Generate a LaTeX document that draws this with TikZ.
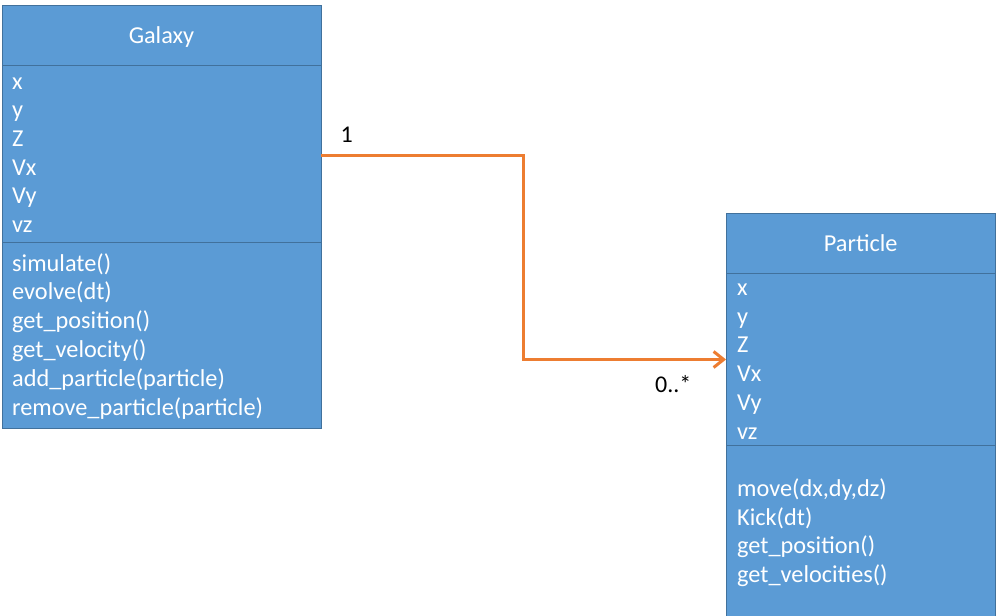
\documentclass[tikz,border=0pt]{standalone}
\usepackage{fontspec}
\setmainfont{Carlito}
\usetikzlibrary{arrows.meta}
\definecolor{boxfill}{HTML}{5B9BD5}
\definecolor{boxline}{HTML}{41719C}
\definecolor{connorange}{HTML}{ED7D31}
\tikzset{
  umlbox/.style={draw=boxline, fill=boxfill, line width=1pt, rectangle, inner sep=0pt, outer sep=0pt, anchor=north west},
  sepline/.style={draw=boxline, line width=1pt},
  title/.style={text=white, anchor=base, inner sep=0pt, font=\fontsize{24.3}{28.8}\selectfont},
  member/.style={text=white, anchor=base west, inner sep=0pt, font=\fontsize{24.3}{28.8}\selectfont},
  mult/.style={text=black, anchor=base west, inner sep=0pt, font=\fontsize{24}{28}\selectfont},
  conn/.style={draw=connorange, line width=3pt, -{Straight Barb[length=10pt,width=16pt,line width=3pt]}}
}
\begin{document}
\begin{tikzpicture}[x=1pt,y=-1pt]
\useasboundingbox (0,0) rectangle (999,616);
\clip (0,0) rectangle (999,616);
% Galaxy
\node[umlbox, minimum width=318.5pt, minimum height=423pt] (galaxy) at (2.5,5) {};
\draw[sepline] (galaxy.west |- 0,65) -- (galaxy.east |- 0,65);
\draw[sepline] (galaxy.west |- 0,242.5) -- (galaxy.east |- 0,242.5);
\node[title] (gtitle) at (161.5,43.3) {Galaxy};
\node[member] (ga1) at (12,89) {x};
\node[member] (ga2) at (12,117.7) {y};
\node[member] (ga3) at (12,146.4) {Z};
\node[member] (ga4) at (12,175.1) {Vx};
\node[member] (ga5) at (12,203.8) {Vy};
\node[member] (ga6) at (12,232.5) {vz};
\node[member] (gm1) at (12,271) {simulate()};
\node[member] (gm2) at (12,299.8) {evolve(dt)};
\node[member] (gm3) at (12,328.6) {get\_position()};
\node[member] (gm4) at (12,357.4) {get\_velocity()};
\node[member] (gm5) at (12,386.2) {add\_particle(particle)};
\node[member] (gm6) at (12,415) {remove\_particle(particle)};
% Particle
\node[umlbox, minimum width=269.5pt, minimum height=420pt] (particle) at (726,213) {};
\draw[sepline] (particle.west |- 0,273) -- (particle.east |- 0,273);
\draw[sepline] (particle.west |- 0,445) -- (particle.east |- 0,445);
\node[title] (ptitle) at (860.75,251.5) {Particle};
\node[member] (pa1) at (737,295.5) {x};
\node[member] (pa2) at (737,324.2) {y};
\node[member] (pa3) at (737,352.9) {Z};
\node[member] (pa4) at (737,381.6) {Vx};
\node[member] (pa5) at (737,410.3) {Vy};
\node[member] (pa6) at (737,439) {vz};
\node[member] (pm1) at (737,496.5) {move(dx,dy,dz)};
\node[member] (pm2) at (737,525.2) {Kick(dt)};
\node[member] (pm3) at (737,553.9) {get\_position()};
\node[member] (pm4) at (737,582.6) {get\_velocities()};
% connector
\coordinate (bend) at (523.5,359.5);
\draw[conn] (galaxy.east |- 0,155) -| (bend) -- (particle.west |- bend);
\node[mult] (m1) at (340.5,142) {1};
\node[mult] (m2) at (655,392.5) {0..*};
\end{tikzpicture}
\end{document}
